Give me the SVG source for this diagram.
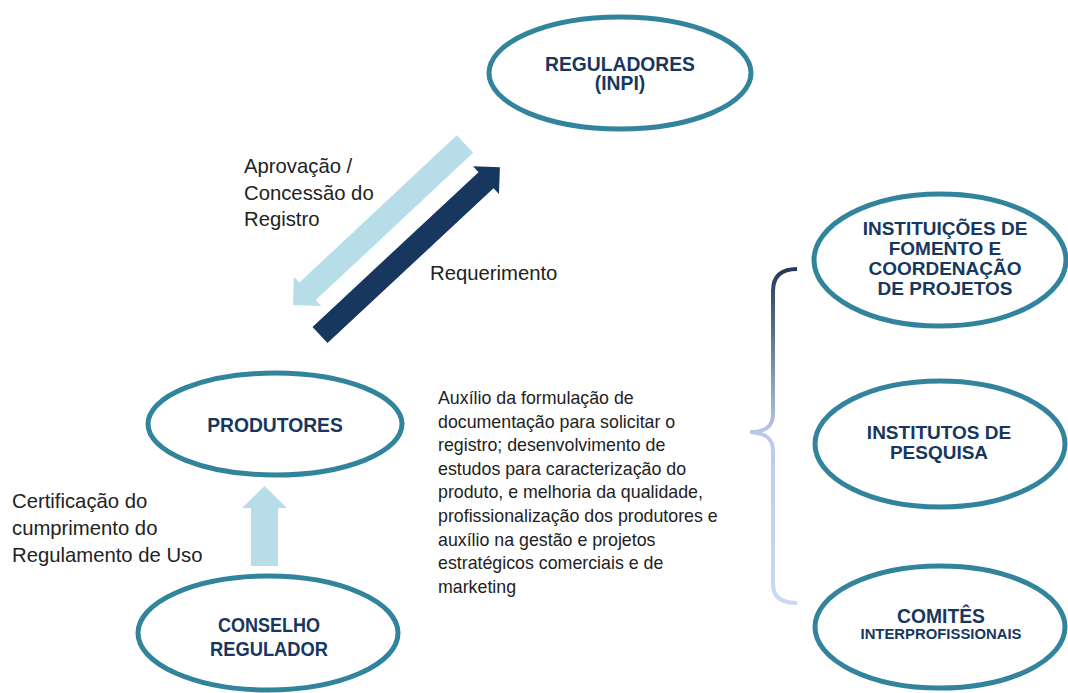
<svg xmlns="http://www.w3.org/2000/svg" width="1068" height="693" viewBox="0 0 1068 693">
<style>
.node ellipse{fill:#fff;stroke:#31849B;stroke-width:5}
.lbl{font-family:"Liberation Sans",Arial,sans-serif;font-weight:bold;fill:#17375E;text-anchor:middle}
.txt{font-family:"Liberation Sans",Arial,sans-serif;fill:#222;font-size:20.3px}
.par{font-family:"Liberation Sans",Arial,sans-serif;fill:#222;font-size:17.8px}
</style>
<defs>
<linearGradient id="brace" gradientUnits="userSpaceOnUse" x1="0" y1="269" x2="0" y2="603">
<stop offset="0" stop-color="#24385A"/>
<stop offset="0.5" stop-color="#BCCBEA"/>
<stop offset="1" stop-color="#CAD8F2"/>
</linearGradient>
</defs>
<rect width="1068" height="693" fill="#fff"/>
<g id="connectors">
<path d="M0,-12 H215.6 V-20 L235.6,0 L215.6,20 V12 H0 Z" fill="#B7DEE8" transform="translate(465,144) rotate(136.9)"/>
<path d="M0,-11 H227 V-19 L246,0 L227,19 V11 H0 Z" fill="#17375E" transform="translate(320,335) rotate(-43)"/>
<path d="M251,566 V508 H242 L264.5,486 L287,508 H278 V566 Z" fill="#B7DEE8"/>
<path d="M797,269 C781,269 773,276 773,291 L773,414 C773,427 765,432 750,432 C765,433 773,438 773,451 L773,584 C773,597 781,603 797,603" fill="none" stroke="url(#brace)" stroke-width="4"/>
</g>
<g id="reguladores" class="node">
<ellipse cx="620" cy="73" rx="131" ry="56"/>
<text class="lbl" font-size="19.3" x="620" y="71">REGULADORES</text>
<text class="lbl" font-size="19.3" x="620" y="90">(INPI)</text>
</g>
<g id="produtores" class="node">
<ellipse cx="275" cy="424" rx="127" ry="51"/>
<text class="lbl" font-size="19.3" x="275" y="432">PRODUTORES</text>
</g>
<g id="conselho" class="node">
<ellipse cx="268" cy="633" rx="130" ry="57"/>
<text class="lbl" font-size="21" x="269" y="632" textLength="102" lengthAdjust="spacingAndGlyphs">CONSELHO</text>
<text class="lbl" font-size="21" x="269" y="656" textLength="118" lengthAdjust="spacingAndGlyphs">REGULADOR</text>
</g>
<g id="instituicoes" class="node">
<ellipse cx="940" cy="260" rx="126" ry="66"/>
<text class="lbl" font-size="19" x="945" y="235">INSTITUIÇÕES DE</text>
<text class="lbl" font-size="19" x="945" y="255">FOMENTO E</text>
<text class="lbl" font-size="19" x="945" y="275">COORDENAÇÃO</text>
<text class="lbl" font-size="19" x="945" y="295">DE PROJETOS</text>
</g>
<g id="institutos" class="node">
<ellipse cx="940" cy="444" rx="125" ry="63"/>
<text class="lbl" font-size="19" x="939" y="439">INSTITUTOS DE</text>
<text class="lbl" font-size="19" x="939" y="459">PESQUISA</text>
</g>
<g id="comites" class="node">
<ellipse cx="940" cy="627" rx="125" ry="61"/>
<text class="lbl" font-size="19.3" x="941" y="623">COMITÊS</text>
<text class="lbl" font-size="14.5" x="941" y="639" textLength="161" lengthAdjust="spacingAndGlyphs">INTERPROFISSIONAIS</text>
</g>
<g id="labels">
<text class="txt" x="244" y="173">Aprovação /</text>
<text class="txt" x="244" y="200">Concessão do</text>
<text class="txt" x="244" y="226">Registro</text>
<text class="txt" x="430" y="280">Requerimento</text>
<text class="txt" x="12" y="508">Certificação do</text>
<text class="txt" x="12" y="535">cumprimento do</text>
<text class="txt" x="12" y="562">Regulamento de Uso</text>
<text class="par" x="438" y="404">Auxílio da formulação de</text>
<text class="par" x="438" y="427.6">documentação para solicitar o</text>
<text class="par" x="438" y="451.2">registro; desenvolvimento de</text>
<text class="par" x="438" y="474.8">estudos para caracterização do</text>
<text class="par" x="438" y="498.4">produto, e  melhoria da qualidade,</text>
<text class="par" x="438" y="522">profissionalização dos produtores e</text>
<text class="par" x="438" y="545.6">auxílio na gestão e projetos</text>
<text class="par" x="438" y="569.2">estratégicos comerciais e de</text>
<text class="par" x="438" y="592.8">marketing</text>
</g>
</svg>
